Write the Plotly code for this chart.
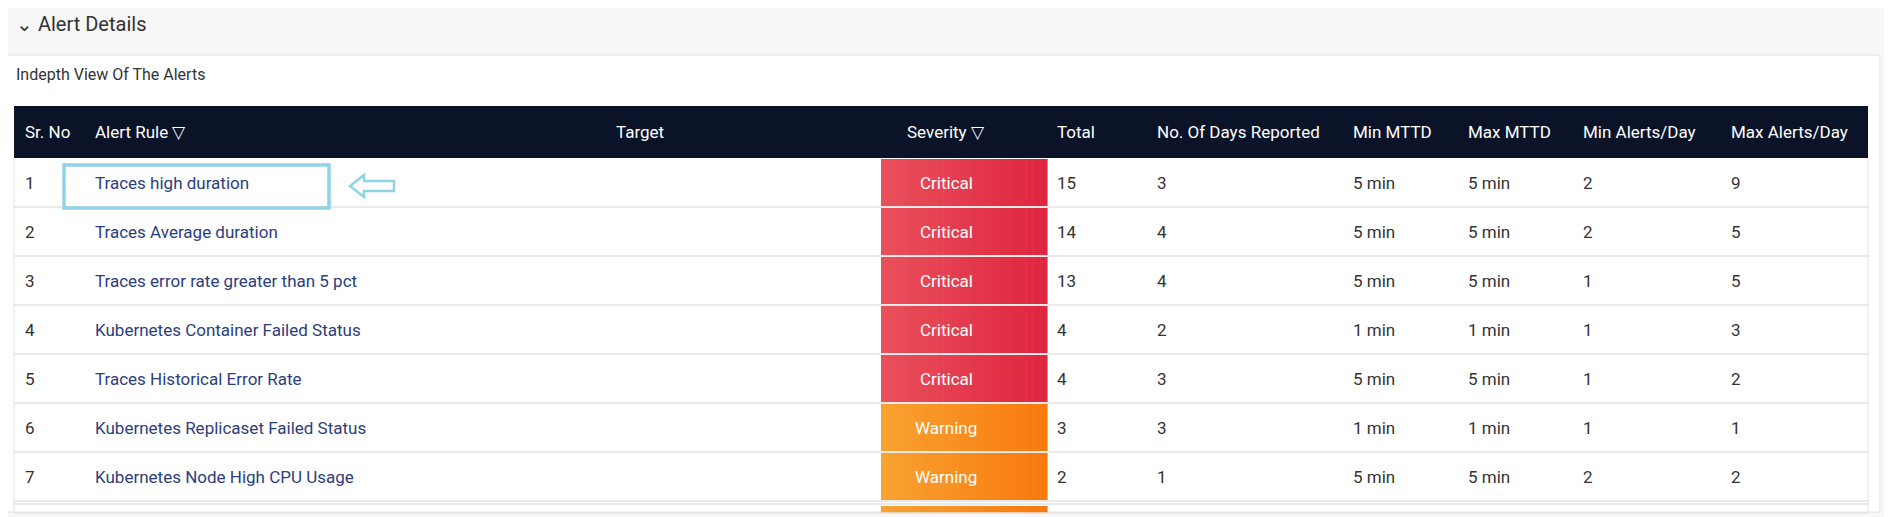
import plotly.graph_objects as go

W, H = 1892, 517

sr_no = [1, 2, 3, 4, 5, 6, 7]
alert_rules = ["Traces high duration", "Traces Average duration", "Traces error rate greater than 5 pct",
               "Kubernetes Container Failed Status", "Traces Historical Error Rate",
               "Kubernetes Replicaset Failed Status", "Kubernetes Node High CPU Usage"]
severity = ["Critical", "Critical", "Critical", "Critical", "Critical", "Warning", "Warning"]
total = [15, 14, 13, 4, 4, 3, 2]
days_reported = [3, 4, 4, 2, 3, 3, 1]
min_mttd = ["5 min", "5 min", "5 min", "1 min", "5 min", "1 min", "5 min"]
max_mttd = ["5 min", "5 min", "5 min", "1 min", "5 min", "1 min", "5 min"]
min_alerts_day = [2, 2, 1, 1, 1, 1, 2]
max_alerts_day = [9, 5, 5, 3, 2, 1, 2]
headers = ["Sr. No", "Alert Rule \u25bd", "Target", "Severity \u25bd", "Total", "No. Of Days Reported",
           "Min MTTD", "Max MTTD", "Min Alerts/Day", "Max Alerts/Day"]

FONT = "Roboto"
OFF = 8  # page body margin
hdr_x = [23, 93, 640, 946, 1055, 1155, 1351, 1466, 1581, 1729]
hdr_anchor = ["left", "left", "center", "center", "left", "left", "left", "left", "left", "left"]
tbl_l, tbl_r = 14, 1868
hdr_top, hdr_bot = 106, 158
row_h = 49
sev_l, sev_r = 881, 1047
sev_cols = {"Critical": ((233, 80, 92), (224, 38, 64)), "Warning": ((248, 162, 50), (249, 122, 14))}

fig = go.Figure()
shapes, ann = [], []

# top bar and panel
shapes.append(dict(type="rect", x0=-20, x1=W + 20, y0=-20, y1=H + 20, fillcolor="#f7f7f7", line_width=0, layer="below"))
shapes.append(dict(type="rect", x0=5, x1=1880, y0=55, y1=512, fillcolor="white",
                   line=dict(color="#e2e2e2", width=1), layer="below"))
ann.append(dict(x=14, y=24, text="\u2304 Alert Details", showarrow=False, xanchor="left",
                font=dict(family=FONT, size=20, color="#333")))
ann.append(dict(x=14, y=74, text="Indepth View Of The Alerts", showarrow=False, xanchor="left",
                font=dict(family=FONT, size=16, color="#333")))

# header
shapes.append(dict(type="rect", x0=tbl_l, x1=tbl_r, y0=hdr_top, y1=hdr_bot, fillcolor="#0b1329", line_width=0))
for x, t, a in zip(hdr_x, headers, hdr_anchor):
    ann.append(dict(x=x, y=(hdr_top + hdr_bot) / 2, text=t, showarrow=False, xanchor=a,
                    font=dict(family=FONT, size=17, color="white")))


def gradient(y0, y1, c0, c1, n=24):
    for k in range(n):
        f = k / (n - 1)
        c = tuple(int(c0[j] + (c1[j] - c0[j]) * f) for j in range(3))
        xa = sev_l + (sev_r - sev_l) * k / n
        xb = sev_l + (sev_r - sev_l) * (k + 1) / n
        shapes.append(dict(type="rect", x0=xa, x1=xb + 0.6, y0=y0, y1=y1,
                           fillcolor="rgb(%d,%d,%d)" % c, line_width=0))


for i in range(len(sr_no)):
    y0 = hdr_bot + i * row_h
    y1 = y0 + row_h
    yc = (y0 + y1) / 2
    gradient(y0 + 1, y1 - 1, *sev_cols[severity[i]])
    shapes.append(dict(type="line", x0=tbl_l, x1=tbl_r, y0=y1, y1=y1, line=dict(color="#e3e3e3", width=1.5)))
    vals = [sr_no[i], alert_rules[i], "", severity[i], total[i], days_reported[i],
            min_mttd[i], max_mttd[i], min_alerts_day[i], max_alerts_day[i]]
    for j, v in enumerate(vals):
        if v == "":
            continue
        col = "#333"
        if j == 1:
            col = "#2c3e7c"
        if j == 3:
            col = "white"
        ann.append(dict(x=hdr_x[j], y=yc, text=str(v), showarrow=False, xanchor=hdr_anchor[j],
                        font=dict(family=FONT, size=17, color=col)))

# partial next row
yn = hdr_bot + len(sr_no) * row_h + 3
gradient(yn + 2, yn + 9, *sev_cols["Warning"])
shapes.append(dict(type="line", x0=tbl_l, x1=tbl_r, y0=yn, y1=yn, line=dict(color="#e3e3e3", width=1.5)))
shapes.append(dict(type="line", x0=tbl_l, x1=tbl_r, y0=yn + 9, y1=yn + 9, line=dict(color="#e3e3e3", width=1.5)))
shapes.append(dict(type="line", x0=tbl_l, x1=tbl_l, y0=hdr_bot, y1=yn + 9, line=dict(color="#e3e3e3", width=1)))
shapes.append(dict(type="line", x0=tbl_r, x1=tbl_r, y0=hdr_bot, y1=yn + 9, line=dict(color="#e3e3e3", width=1)))

# highlight box and arrow
shapes.append(dict(type="rect", x0=64, x1=329, y0=165, y1=208, line=dict(color="#8fd3e6", width=3.5)))
shapes.append(dict(type="path", path="M 350 186 L 364 175 L 364 181 L 394 181 L 394 191 L 364 191 L 364 197 Z",
                   line=dict(color="#8fd3e6", width=2.5)))

fig.update_layout(width=W, height=H, margin=dict(l=0, r=0, t=0, b=0),
                  paper_bgcolor="#f7f7f7", plot_bgcolor="#f7f7f7", showlegend=False,
                  shapes=shapes, annotations=ann,
                  xaxis=dict(range=[OFF, W + OFF], visible=False, fixedrange=True),
                  yaxis=dict(range=[H + OFF, OFF], visible=False, fixedrange=True))
fig.write_html("out.html", config={"displayModeBar": False})
